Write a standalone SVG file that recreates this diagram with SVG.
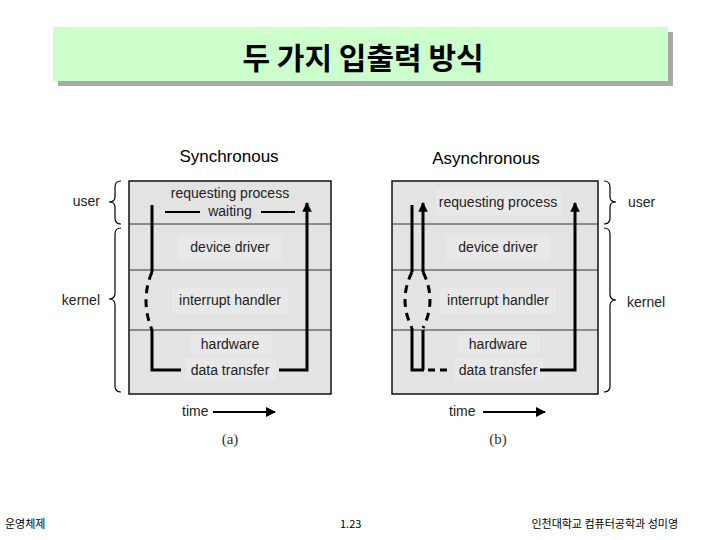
<svg xmlns="http://www.w3.org/2000/svg" width="720" height="540" viewBox="0 0 720 540">
<defs>
<style>
.lbl{font-family:"Liberation Sans",Arial,sans-serif;font-size:14px;fill:#222;}
.hd{font-family:"Liberation Sans",Arial,sans-serif;font-size:17px;fill:#000;}
.cap{font-family:"Liberation Serif","Times New Roman",serif;font-size:15px;fill:#333;}
.ko{font-family:"Noto Sans CJK KR",sans-serif;font-size:11px;fill:#000;}
.panel{fill:#e3e3e3;stroke:#111;stroke-width:1.5;}
.div{stroke:#333;stroke-width:1;}
.tb{fill:#e8e8e8;}
.thick{fill:none;stroke:#000;stroke-width:3;}
.dash{fill:none;stroke:#000;stroke-width:3;stroke-dasharray:8 6;}
.thin{fill:none;stroke:#000;stroke-width:2;}
.brace{fill:none;stroke:#000;stroke-width:1.2;}
</style>
<marker id="ah" viewBox="0 0 10 10" refX="9" refY="5" markerWidth="3.2" markerHeight="3.2" orient="auto" markerUnits="strokeWidth">
<path d="M0,0 L10,5 L0,10 Z" fill="#000"/>
</marker>
<marker id="ah2" viewBox="0 0 10 10" refX="9" refY="5" markerWidth="5" markerHeight="5" orient="auto" markerUnits="strokeWidth">
<path d="M0,0 L10,5 L0,10 Z" fill="#000"/>
</marker>
</defs>
<rect width="720" height="540" fill="#fff"/>

<g id="title">
<rect x="58" y="32" width="615" height="54" fill="#a8a8a8"/>
<rect x="53" y="27" width="615" height="54" fill="#ccffcc"/>
<text x="363" y="69" text-anchor="middle" font-family="Noto Sans CJK KR, sans-serif" font-weight="bold" font-size="30" fill="#000">두 가지 입출력 방식</text>
</g>

<g id="sync">
<text class="hd" x="229" y="162" text-anchor="middle">Synchronous</text>
<rect class="panel" x="129" y="181" width="202" height="213"/>
<line class="div" x1="129" y1="224" x2="331" y2="224"/>
<line class="div" x1="129" y1="270" x2="331" y2="270"/>
<line class="div" x1="129" y1="330" x2="331" y2="330"/>
<rect class="tb" x="178" y="235" width="104" height="26"/>
<rect class="tb" x="172" y="288" width="116" height="26"/>
<rect class="tb" x="190" y="335" width="82" height="18"/>
<rect class="tb" x="186" y="358" width="90" height="22"/>
<text class="lbl" x="230" y="198" text-anchor="middle">requesting process</text>
<text class="lbl" x="230" y="216" text-anchor="middle">waiting</text>
<text class="lbl" x="230" y="252" text-anchor="middle">device driver</text>
<text class="lbl" x="230" y="305" text-anchor="middle">interrupt handler</text>
<text class="lbl" x="230" y="349" text-anchor="middle">hardware</text>
<text class="lbl" x="230" y="375" text-anchor="middle">data transfer</text>
</g>

<g id="async">
<text class="hd" x="486" y="164" text-anchor="middle">Asynchronous</text>
<rect class="panel" x="392" y="181" width="206" height="213"/>
<line class="div" x1="392" y1="224" x2="598" y2="224"/>
<line class="div" x1="392" y1="270" x2="598" y2="270"/>
<line class="div" x1="392" y1="330" x2="598" y2="330"/>
<rect class="tb" x="436" y="189" width="126" height="26"/>
<rect class="tb" x="446" y="235" width="104" height="26"/>
<rect class="tb" x="440" y="288" width="116" height="26"/>
<rect class="tb" x="458" y="335" width="82" height="18"/>
<rect class="tb" x="454" y="358" width="90" height="22"/>
<text class="lbl" x="498" y="207" text-anchor="middle">requesting process</text>
<text class="lbl" x="498" y="252" text-anchor="middle">device driver</text>
<text class="lbl" x="498" y="305" text-anchor="middle">interrupt handler</text>
<text class="lbl" x="498" y="349" text-anchor="middle">hardware</text>
<text class="lbl" x="498" y="375" text-anchor="middle">data transfer</text>
</g>

<g id="labels">
<text class="lbl" x="100" y="206" text-anchor="end">user</text>
<text class="lbl" x="100" y="305" text-anchor="end">kernel</text>
<text class="lbl" x="628" y="207">user</text>
<text class="lbl" x="627" y="307">kernel</text>
<text class="lbl" x="182" y="416">time</text>
<text class="lbl" x="449" y="416">time</text>
<text class="cap" x="230" y="444" text-anchor="middle">(a)</text>
<text class="cap" x="498" y="444" text-anchor="middle">(b)</text>
</g>

<g id="braces">
<path class="brace" d="M121,181 Q115,181 115,187 L115,197 Q115,202 109,202 Q115,202 115,207 L115,218 Q115,224 121,224"/>
<path class="brace" d="M121,228 Q115,228 115,234 L115,293 Q115,299 109,299 Q115,299 115,305 L115,386 Q115,392 121,392"/>
<path class="brace" d="M604,181 Q610,181 610,187 L610,197 Q610,202 616,202 Q610,202 610,207 L610,218 Q610,224 604,224"/>
<path class="brace" d="M604,228 Q610,228 610,234 L610,294 Q610,300 616,300 Q610,300 610,306 L610,386 Q610,392 604,392"/>
</g>

<g id="connectors">
<line class="thin" x1="165" y1="212" x2="200" y2="212"/>
<line class="thin" x1="261" y1="212" x2="295" y2="212"/>
<path class="thick" d="M152,205 L152,272"/>
<path class="dash" d="M152,272 Q140,300 152,330"/>
<path class="thick" d="M152,330 L152,370 L181,370"/>
<path class="thick" d="M279,370 L307,370 L307,203" marker-end="url(#ah)"/>
<line x1="213" y1="412" x2="275" y2="412" stroke="#000" stroke-width="2" marker-end="url(#ah2)"/>
<path class="thick" d="M412,205 L412,272"/>
<path class="thick" d="M423,272 L423,203" marker-end="url(#ah)"/>
<path class="dash" d="M412,272 Q398,300 412,328"/>
<path class="dash" d="M423,272 Q437,300 423,328"/>
<path class="thick" d="M412,328 L412,370 L424,370"/>
<path class="thick" d="M423,330 L423,370"/>
<path class="dash" d="M428,370 L452,370" style="stroke-dasharray:7 5"/>
<path class="thick" d="M540,370 L575,370 L575,203" marker-end="url(#ah)"/>
<line x1="483" y1="412" x2="545" y2="412" stroke="#000" stroke-width="2" marker-end="url(#ah2)"/>
</g>

<g id="footer">
<text class="ko" x="5" y="528">운영체제</text>
<text class="ko" x="340" y="528" font-family="Liberation Sans, sans-serif" font-size="10">1.23</text>
<text class="ko" x="678" y="528" text-anchor="end">인천대학교 컴퓨터공학과 성미영</text>
</g>
</svg>
